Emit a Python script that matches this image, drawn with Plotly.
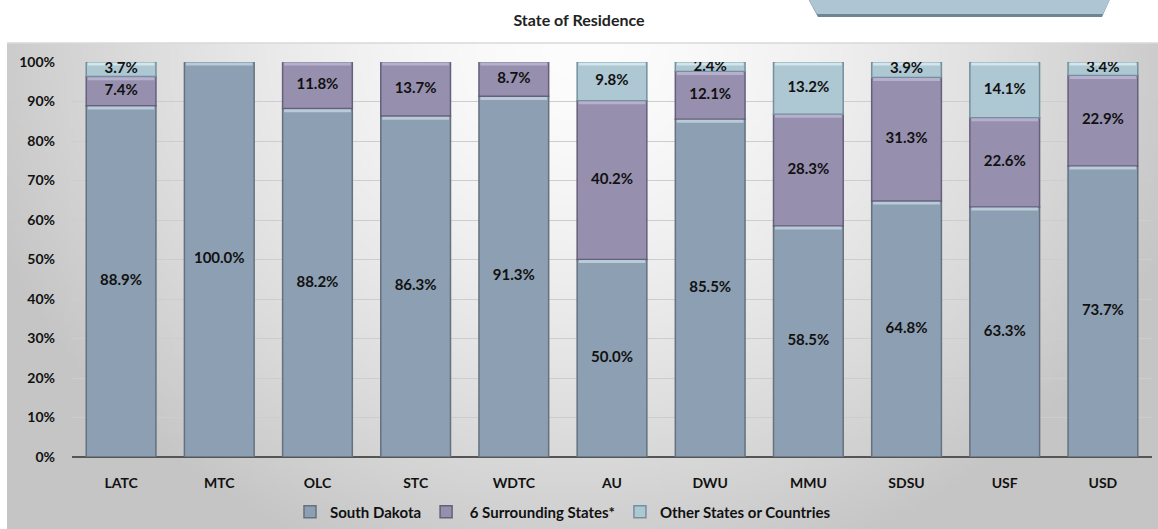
import base64, struct, zlib
import numpy as np
import plotly.graph_objects as go

categories = ["LATC", "MTC", "OLC", "STC", "WDTC", "AU", "DWU", "MMU", "SDSU", "USF", "USD"]
south_dakota = [88.9, 100.0, 88.2, 86.3, 91.3, 50.0, 85.5, 58.5, 64.8, 63.3, 73.7]
surrounding = [7.4, 0.0, 11.8, 13.7, 8.7, 40.2, 12.1, 28.3, 31.3, 22.6, 22.9]
other = [3.7, 0.0, 0.0, 0.0, 0.0, 9.8, 2.4, 13.2, 3.9, 14.1, 3.4]
series_names = ["South Dakota", " 6 Surrounding States*", "Other States or Countries"]
y_ticks = [0, 10, 20, 30, 40, 50, 60, 70, 80, 90, 100]

# ---------- layout geometry (pixels) ----------
W, H = 1158, 529
L, R, T, B = 72, 6, 62, 72
pw, ph = W - L - R, H - T - B


def px_x(x):
    return (x - L) / pw


def px_y(y):
    return (H - B - y) / ph


# ---------- gradient background image ----------
def make_png(arr):
    h, w, _ = arr.shape
    raw = b"".join(b"\x00" + arr[i].tobytes() for i in range(h))

    def chunk(tag, data):
        c = struct.pack(">I", len(data)) + tag + data
        return c + struct.pack(">I", zlib.crc32(tag + data) & 0xFFFFFFFF)

    png = b"\x89PNG\r\n\x1a\n"
    png += chunk(b"IHDR", struct.pack(">IIBBBBB", w, h, 8, 2, 0, 0, 0))
    png += chunk(b"IDAT", zlib.compress(raw, 9))
    png += chunk(b"IEND", b"")
    return "data:image/png;base64," + base64.b64encode(png).decode()


gw, gh = 300, 130
u = np.linspace(0, 1, gw)[None, :]
v = np.linspace(0, 1, gh)[:, None]
d = np.sqrt(((u - 0.5) / 0.55) ** 2 + (v / 1.15) ** 2)
d = np.clip(d, 0, 1)
val = 253 - (253 - 197) * d ** 1.5
img = np.repeat(val[:, :, None], 3, axis=2).astype(np.uint8)
bg_src = make_png(img)

colors = ["#8d9fb2", "#968fae", "#adc7d3"]
edge = ["#65717e", "#665f7c", "#74909c"]
highlight = ["#b9cbd8", "#b6afcd", "#d3e6ec"]
BAR_W = 0.71

fig = go.Figure()
all_series = [south_dakota, surrounding, other]
bases = [[0.0] * len(categories)]
for vals in all_series[:-1]:
    bases.append([b + v_ for b, v_ in zip(bases[-1], vals)])

for name, vals, base, c, e in zip(series_names, all_series, bases, colors, edge):
    fig.add_trace(go.Bar(
        x=categories, y=vals, base=base, name=name, width=BAR_W,
        marker=dict(color=c, line=dict(color=e, width=1.5)),
        hoverinfo="skip",
    ))
# bevel highlight along the top of each segment
for vals, base, hc in zip(all_series, bases, highlight):
    hx = [c for c, v_ in zip(categories, vals) if v_ > 0]
    hb = [b + v_ - 0.9 for b, v_ in zip(base, vals) if v_ > 0]
    fig.add_trace(go.Bar(
        x=hx, y=[0.75] * len(hx), base=hb, width=BAR_W - 0.03, showlegend=False,
        marker=dict(color=hc, line=dict(width=0)), hoverinfo="skip",
    ))

# centered data labels
lab_x, lab_y, lab_t = [], [], []
for i, cat in enumerate(categories):
    for vals, base in zip(all_series, bases):
        if vals[i] > 0:
            lab_x.append(cat)
            lab_y.append(base[i] + vals[i] / 2)
            lab_t.append(f"{vals[i]:.1f}%")
fig.add_trace(go.Scatter(
    x=lab_x, y=lab_y, text=lab_t, mode="text", showlegend=False, hoverinfo="skip",
    textfont=dict(family="Lato", size=15, color="#111111", weight="bold"),
))

fig.update_layout(
    width=W, height=H,
    barmode="overlay",
    margin=dict(l=L, r=R, t=T, b=B, autoexpand=False),
    paper_bgcolor="white", plot_bgcolor="rgba(0,0,0,0)",
    font=dict(family="Lato", size=14, color="#111111"),
    title=dict(text="<b>State of Residence</b>", x=0.5, xref="container", xanchor="center",
               y=1 - 20 / H, yref="container", yanchor="middle",
               font=dict(family="Lato", size=16, color="#222222")),
    showlegend=True,
    legend=dict(orientation="h", x=563 / W, xref="container", xanchor="center",
                y=1 - 512 / H, yref="container", yanchor="middle",
                font=dict(family="Lato", size=15, color="#111111", weight="bold"),
                bgcolor="rgba(0,0,0,0)", itemwidth=30, traceorder="normal"),
    xaxis=dict(showgrid=False, ticks="", showline=False, automargin=False,
               range=[-0.5, len(categories) - 0.5],
               tickfont=dict(family="Lato", size=14, weight="bold"), ticklabelstandoff=16),
    yaxis=dict(range=[0, 100], tickvals=y_ticks, ticktext=[f"{t}%" for t in y_ticks],
               showgrid=True, gridcolor="#cdcdcd", gridwidth=1, automargin=False,
               zeroline=True, zerolinecolor="#555555", zerolinewidth=2,
               tickfont=dict(family="Lato", size=14, weight="bold"), ticklabelstandoff=16),
    images=[dict(source=bg_src, xref="paper", yref="paper",
                 x=px_x(7), y=px_y(43), sizex=px_x(W) - px_x(7), sizey=px_y(43) - px_y(H),
                 xanchor="left", yanchor="top", sizing="stretch", layer="below")],
    shapes=[
        dict(type="line", xref="paper", yref="paper", x0=px_x(7), x1=px_x(W), y0=px_y(43), y1=px_y(43),
             line=dict(color="#d8d8d8", width=1.5)),
        dict(type="path", xref="paper", yref="paper",
             path=f"M {px_x(806)} {px_y(-5)} L {px_x(1112)} {px_y(-5)} L {px_x(1102)} {px_y(17)} "
                  f"L {px_x(818)} {px_y(17)} Z",
             fillcolor="#6f8594", line=dict(width=0)),
        dict(type="path", xref="paper", yref="paper",
             path=f"M {px_x(806)} {px_y(-5)} L {px_x(1112)} {px_y(-5)} L {px_x(1103)} {px_y(14)} "
                  f"L {px_x(817)} {px_y(14)} Z",
             fillcolor="#aec6d4", line=dict(width=0)),
    ],
)

fig.write_html("out.html", config={"displayModeBar": False},
               post_script="document.body.style.margin='0px';document.body.style.overflow='hidden';")
